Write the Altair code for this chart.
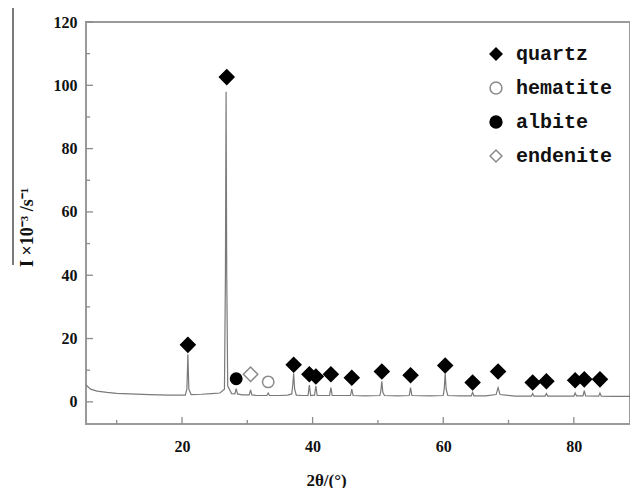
import altair as alt
import pandas as pd

# ---- spectrum (2theta in degrees, intensity in 10^3 counts/s) ----
two_theta = [5.3, 6.0, 7.0, 8.5, 10.0, 12.0, 15.0, 18.0, 20.5, 20.75, 20.9, 21.05, 21.4,
             23.0, 24.5, 25.8, 26.5, 26.65, 26.75, 26.85, 27.0, 27.6, 28.1, 28.3, 28.5,
             29.2, 30.3, 30.5, 30.7, 31.5, 33.0, 33.2, 33.4, 35.0, 36.2, 36.8, 36.95,
             37.1, 37.25, 37.5, 38.5, 39.3, 39.5, 39.7, 40.3, 40.5, 40.7, 42.6, 42.8,
             43.0, 44.5, 45.8, 46.0, 46.2, 48.0, 50.3, 50.45, 50.6, 50.75, 51.0, 53.0,
             54.8, 55.0, 55.2, 58.0, 60.0, 60.15, 60.3, 60.45, 60.7, 62.5, 64.3, 64.5,
             64.7, 66.5, 68.1, 68.4, 68.7, 71.0, 73.5, 73.7, 73.9, 75.6, 75.8, 76.0,
             78.0, 80.0, 80.2, 80.4, 81.4, 81.6, 81.8, 83.8, 84.0, 84.2, 86.0, 88.6]
intensity = [5.3, 4.0, 3.4, 3.0, 2.7, 2.5, 2.3, 2.1, 2.1, 4.0, 15.0, 4.0, 2.3,
             2.4, 2.6, 2.8, 4.0, 40.0, 98.0, 40.0, 5.0, 2.6, 2.5, 4.2, 2.5,
             2.2, 2.2, 3.8, 2.2, 2.0, 2.0, 2.8, 2.0, 2.0, 2.1, 2.5, 5.0,
             9.0, 4.0, 2.1, 2.0, 2.0, 5.3, 2.0, 2.1, 5.0, 2.0, 2.0, 4.5,
             2.0, 2.0, 2.0, 4.0, 2.0, 1.9, 2.0, 3.5, 6.5, 3.0, 2.0, 1.9,
             2.0, 4.5, 2.0, 1.9, 2.0, 4.0, 9.0, 4.0, 2.0, 1.9, 1.9, 3.0,
             1.9, 1.9, 2.3, 4.5, 2.3, 1.8, 1.8, 2.6, 1.8, 1.8, 2.6, 1.8,
             1.8, 1.8, 2.8, 1.9, 1.9, 3.5, 1.9, 1.8, 2.8, 1.8, 1.7, 1.7]
assert len(two_theta) == len(intensity)

# ---- phase markers ----
quartz_x = [20.9, 26.85, 37.1, 39.5, 40.5, 42.8, 46.0, 50.6, 55.0, 60.3, 64.5, 68.4,
            73.7, 75.8, 80.2, 81.6, 84.0]
quartz_y = [18.0, 102.6, 11.7, 8.7, 8.0, 8.7, 7.6, 9.6, 8.4, 11.5, 6.1, 9.6,
            6.1, 6.5, 6.8, 7.1, 7.1]
hematite_x = [33.2]
hematite_y = [6.3]
albite_x = [28.3]
albite_y = [7.3]
endenite_x = [30.5]
endenite_y = [8.7]

minerals = ["quartz", "hematite", "albite", "endenite"]
shapes = ["diamond", "circle", "circle", "diamond"]
fills = ["black", "white", "black", "white"]
strokes = ["black", "#8a8a8a", "black", "#8a8a8a"]

# ---- axis ticks ----
x_major = [20, 40, 60, 80]
x_minor = [10, 30, 50, 70]
y_major = [0, 20, 40, 60, 80, 100, 120]
y_minor = [10, 30, 50, 70, 90, 110]

spec_df = pd.DataFrame({"t": two_theta, "i": intensity})
rows = []
for name, xs, ys in [("quartz", quartz_x, quartz_y), ("hematite", hematite_x, hematite_y),
                     ("albite", albite_x, albite_y), ("endenite", endenite_x, endenite_y)]:
    for a, b in zip(xs, ys):
        rows.append({"t": a, "i": b, "mineral": name})
mark_df = pd.DataFrame(rows)

W, H = 544, 402
xscale = alt.Scale(domain=[5.3, 88.6], nice=False, zero=False)
yscale = alt.Scale(domain=[-7.0, 120], nice=False, zero=False)

LAB = dict(labelFont="Liberation Serif", labelFontWeight="bold", labelFontSize=16,
           labelColor="#111", ticks=False, domain=False, grid=False)

line = alt.Chart(spec_df).mark_line(color="#7a7a7a", strokeWidth=1.2).encode(
    x=alt.X("t:Q", scale=xscale,
            axis=alt.Axis(values=x_major, labelPadding=14, title="2θ/(°)",
                          titleFont="Liberation Serif", titleFontSize=17,
                          titleFontWeight="bold", titleColor="#111",
                          titleX=240, titleY=56, titleBaseline="middle", **LAB)),
    y=alt.Y("i:Q", scale=yscale,
            axis=alt.Axis(values=y_major, labelPadding=9, title="I ×10⁻³ /s⁻¹",
                          titleFont="Liberation Serif", titleFontSize=18,
                          titleFontWeight="bold", titleColor="#111",
                          titleX=-59, titleY=205, titleAngle=-90,
                          titleAlign="center", titleBaseline="middle", **LAB)),
)

leg = alt.Legend(title=None, orient="none", legendX=400, legendY=22,
                 labelFont="Liberation Mono", labelFontSize=20, labelFontWeight="bold",
                 labelColor="#111", rowPadding=14, labelOffset=10, symbolSize=140,
                 symbolStrokeWidth=1.5)

enc = dict(
    x=alt.X("t:Q", scale=xscale),
    y=alt.Y("i:Q", scale=yscale),
    shape=alt.Shape("mineral:N", scale=alt.Scale(domain=minerals, range=shapes), legend=leg),
    fill=alt.Fill("mineral:N", scale=alt.Scale(domain=minerals, range=fills), legend=leg),
    stroke=alt.Stroke("mineral:N", scale=alt.Scale(domain=minerals, range=strokes), legend=leg),
)
diamonds = alt.Chart(mark_df).transform_filter(
    alt.FieldOneOfPredicate(field="mineral", oneOf=["quartz", "endenite"])
).mark_point(filled=True, opacity=1, strokeWidth=1.5, size=210).encode(**enc)
circles = alt.Chart(mark_df).transform_filter(
    alt.FieldOneOfPredicate(field="mineral", oneOf=["hematite", "albite"])
).mark_point(filled=True, opacity=1, strokeWidth=1.5, size=130).encode(**enc)

tick_col = "#8c8c8c"
xt_major = alt.Chart(pd.DataFrame({"t": x_major})).mark_rule(color=tick_col, strokeWidth=1.3).encode(
    x=alt.X("t:Q", scale=xscale), y=alt.value(H), y2=alt.value(H - 7))
xt_minor = alt.Chart(pd.DataFrame({"t": x_minor})).mark_rule(color=tick_col, strokeWidth=1.3).encode(
    x=alt.X("t:Q", scale=xscale), y=alt.value(H), y2=alt.value(H - 4))
yt_major = alt.Chart(pd.DataFrame({"i": y_major})).mark_rule(color=tick_col, strokeWidth=1.3).encode(
    y=alt.Y("i:Q", scale=yscale), x=alt.value(0), x2=alt.value(7))
yt_minor = alt.Chart(pd.DataFrame({"i": y_minor})).mark_rule(color=tick_col, strokeWidth=1.3).encode(
    y=alt.Y("i:Q", scale=yscale), x=alt.value(0), x2=alt.value(4))

# stray rule seen beside the y-axis title in the source image
stray = alt.Chart(pd.DataFrame({"k": [0]})).mark_rule(color="#222", strokeWidth=1.2, clip=False).encode(
    x=alt.value(-73), y=alt.value(-14), y2=alt.value(243))

chart = alt.layer(line, xt_major, xt_minor, yt_major, yt_minor, diamonds, circles, stray).properties(
    width=W, height=H,
    autosize=alt.AutoSizeParams(type="none"),
    padding={"left": 78, "top": 14, "right": 0, "bottom": 64},
    background="white",
).configure_view(stroke="#9a9a9a", strokeWidth=2)

chart.save("out.html", embed_options={"renderer": "svg", "actions": False})
